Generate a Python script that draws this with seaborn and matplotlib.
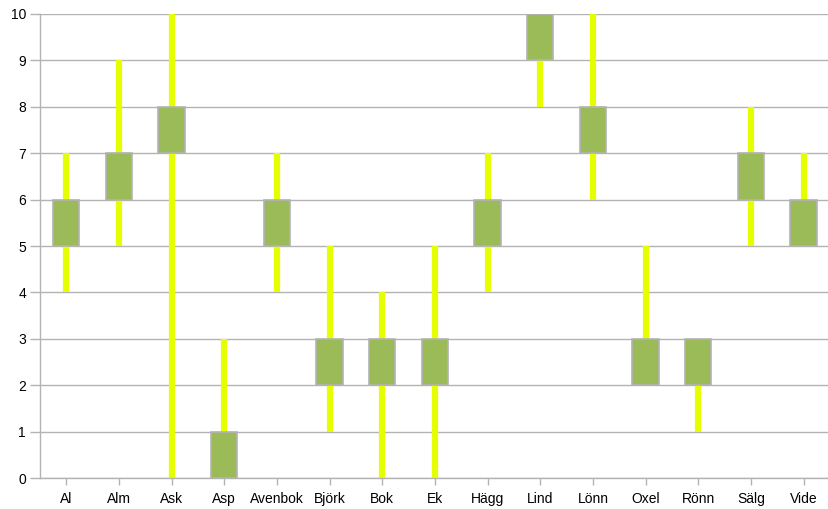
import matplotlib
matplotlib.use("Agg")
import matplotlib.pyplot as plt
import seaborn as sns
import numpy as np

categories = ["Al", "Alm", "Ask", "Asp", "Avenbok", "Björk", "Bok", "Ek",
              "Hägg", "Lind", "Lönn", "Oxel", "Rönn", "Sälg", "Vide"]
line_min = [4, 5, 0, 0, 4, 1, 0, 0, 4, 8, 6, 2, 1, 5, 5]
line_max = [7, 9, 10, 3, 7, 5, 4, 5, 7, 10, 10, 5, 3, 8, 7]
box_low = [5, 6, 7, 0, 5, 2, 2, 2, 5, 9, 7, 2, 2, 6, 5]
box_high = [6, 7, 8, 1, 6, 3, 3, 3, 6, 10, 8, 3, 3, 7, 6]
yticks = list(range(0, 11))

sns.set_style("white")
plt.rcParams["font.family"] = ["Liberation Sans", "DejaVu Sans"]
plt.rcParams["text.color"] = "black"
plt.rcParams["xtick.labelcolor"] = "black"
plt.rcParams["ytick.labelcolor"] = "black"

fig = plt.figure(figsize=(8.29, 5.09), dpi=100)
ax = fig.add_axes([40 / 829, (509 - 478) / 509, 790 / 829, 464 / 509])

grid_c = "#b3b3b3"
x = np.arange(len(categories))
ax.vlines(x, line_min, line_max, colors="#e6ff00", linewidth=4.5, zorder=2)

heights = [h - l for h, l in zip(box_high, box_low)]
sns.barplot(x=categories, y=heights, bottom=box_low, color="#9bbb59",
            saturation=1, width=0.5, edgecolor=grid_c, linewidth=1.2,
            ax=ax, zorder=3)

ax.set_ylim(0, 10)
ax.set_xlim(-0.5, len(categories) - 0.5)
ax.set_yticks(yticks)
ax.set_yticklabels([str(v) for v in yticks])
ax.yaxis.grid(True, color=grid_c, linewidth=1)
ax.set_axisbelow(True)
for s in ["top", "right"]:
    ax.spines[s].set_visible(False)
for s in ["left", "bottom"]:
    ax.spines[s].set_color(grid_c)
    ax.spines[s].set_linewidth(1)
ax.tick_params(axis="y", length=7, color=grid_c, width=1, labelsize=10, pad=3,
               left=True, labelcolor="black")
ax.tick_params(axis="x", length=5, color=grid_c, width=1, labelsize=10, pad=5,
               bottom=True, labelcolor="black")
ax.set_xlabel("")
ax.set_ylabel("")

fig.savefig("out.png", dpi=100)
